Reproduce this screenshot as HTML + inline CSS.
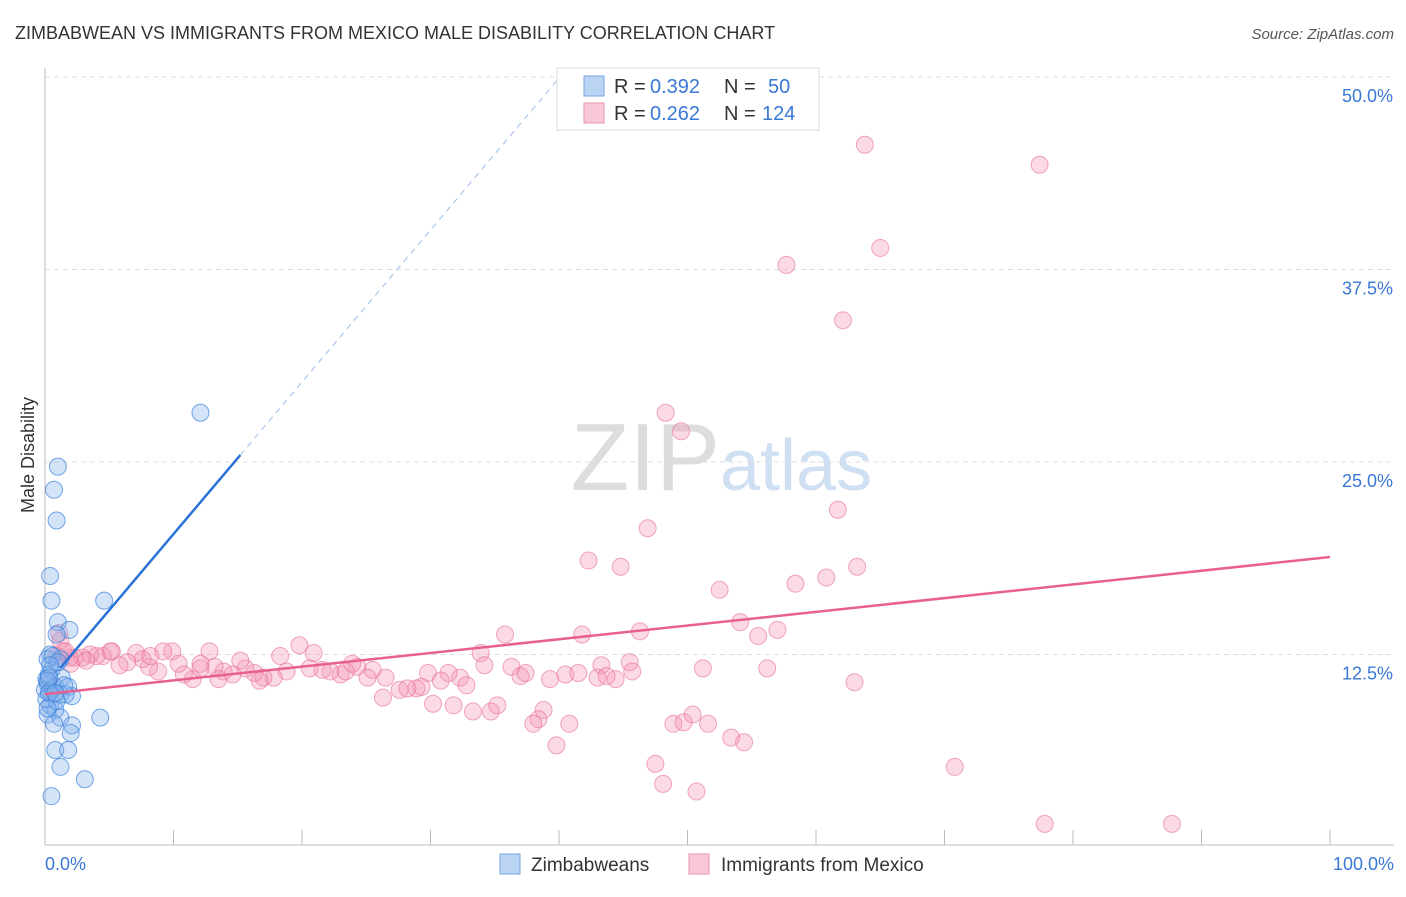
<!DOCTYPE html>
<html><head><meta charset="utf-8"><style>
body{margin:0;background:#fff;font-family:"Liberation Sans",sans-serif;}
svg text{font-family:"Liberation Sans",sans-serif;}
</style></head><body>
<svg id="c" width="1406" height="892">
<text x="15" y="39" font-size="18" fill="#333">ZIMBABWEAN VS IMMIGRANTS FROM MEXICO MALE DISABILITY CORRELATION CHART</text>
<text x="1394" y="39" font-size="15" fill="#555" font-style="italic" text-anchor="end">Source: ZipAtlas.com</text>
<text x="720" y="490" font-size="96" fill="#ddd" text-anchor="end" font-family="Liberation Serif">ZIP</text>
<text x="720" y="490" font-size="72" fill="#cfe0f3">atlas</text>
<text transform="translate(34,455) rotate(-90)" font-size="18" fill="#333" text-anchor="middle">Male Disability</text>
<g id="grid"></g><g id="marks"></g>
<g>
<rect x="557" y="68" width="262" height="62" fill="#fff" stroke="#ddd"/>
<rect x="584" y="76" width="20" height="20" fill="#bcd4f4" stroke="#7aa6e6"/>
<rect x="584" y="103" width="20" height="20" fill="#f9c8d6" stroke="#ec93ae"/>
<text x="614" y="93" font-size="20" fill="#333">R =</text>
<text x="650" y="93" font-size="20" fill="#3a78d6">0.392</text>
<text x="724" y="93" font-size="20" fill="#333">N =</text>
<text x="768" y="93" font-size="20" fill="#3a78d6">50</text>
<text x="614" y="120" font-size="20" fill="#333">R =</text>
<text x="650" y="120" font-size="20" fill="#3a78d6">0.262</text>
<text x="724" y="120" font-size="20" fill="#333">N =</text>
<text x="762" y="120" font-size="20" fill="#3a78d6">124</text>
</g>
<g>
<rect x="500" y="854" width="20" height="20" fill="#bcd4f4" stroke="#7aa6e6"/>
<text x="531" y="871" font-size="19" fill="#333">Zimbabweans</text>
<rect x="689" y="854" width="20" height="20" fill="#f9c8d6" stroke="#ec93ae"/>
<text x="721" y="871" font-size="19" fill="#333">Immigrants from Mexico</text>
</g>
<text x="45" y="870" font-size="18" fill="#3a78d6">0.0%</text>
<text x="1394" y="870" font-size="18" fill="#3a78d6" text-anchor="end">100.0%</text>
</svg>
<script>
const yTicks=[12.5,25,37.5,50];
const blueX=[12.1,1.0,0.7,0.9,0.4,0.5,4.6,1.0,1.9,0.9,0.4,1.2,0.5,1.3,0.2,0.8,1.8,0.0,0.4,1.2,2.1,1.6,0.4,0.8,0.2,1.2,4.3,2.1,2.0,0.8,1.8,1.2,3.1,0.5,0.1,0.1,0.2,0.6,0.3,0.9,1.5,0.3,0.6,0.2,0.7,1.0,0.4,0.2,0.8,0.3];
const blueY=[28.2,24.7,23.2,21.2,17.6,16.0,16.0,14.6,14.1,13.8,12.5,12.2,11.5,11.0,10.6,10.4,10.4,10.2,10.1,9.9,9.8,9.9,9.2,8.9,8.6,8.4,8.4,7.9,7.4,6.3,6.3,5.2,4.4,3.3,10.9,9.6,12.2,10.3,10.0,9.5,10.5,11.2,12.4,10.8,8.0,12.0,11.8,9.0,10.0,11.0];
const pinkX=[63.8,77.4,65.0,57.7,62.1,48.3,49.5,61.7,46.9,42.3,44.8,63.2,60.8,58.4,52.5,54.1,55.5,57.0,46.3,41.8,35.8,63.0,56.2,51.2,45.5,43.3,45.7,33.9,34.2,36.3,37.0,40.5,41.5,44.4,43.0,43.7,39.3,37.4,32.3,31.4,29.8,29.3,30.8,32.8,28.9,27.6,28.2,26.5,25.5,24.3,23.9,25.1,23.0,23.4,22.2,21.6,20.6,19.8,20.9,18.8,18.3,17.8,17.0,16.3,15.6,15.2,14.6,13.9,13.2,12.8,12.1,11.5,10.8,10.4,9.9,9.2,8.8,8.1,7.6,7.1,6.4,5.8,5.2,4.5,4.0,3.5,2.9,2.3,1.9,1.4,0.9,1.2,1.1,1.6,26.3,30.2,31.8,33.3,34.7,35.2,38.8,38.4,38.0,40.8,39.8,48.9,49.7,50.4,51.6,53.4,54.4,47.5,50.7,48.1,70.8,77.8,87.7,5.1,12.1,13.5,16.7,8.2,3.2,2.0];
const pinkY=[45.6,44.3,38.9,37.8,34.2,28.2,27.0,21.9,20.7,18.6,18.2,18.2,17.5,17.1,16.7,14.6,13.7,14.1,14.0,13.8,13.8,10.7,11.6,11.6,12.0,11.8,11.4,12.6,11.8,11.7,11.1,11.2,11.3,10.9,11.0,11.1,10.9,11.3,11.0,11.3,11.3,10.4,10.8,10.5,10.3,10.2,10.3,11.0,11.5,11.7,11.9,11.0,11.2,11.4,11.4,11.5,11.6,13.1,12.6,11.4,12.4,11.0,11.0,11.3,11.6,12.1,11.2,11.4,11.7,12.7,11.9,10.9,11.2,11.9,12.7,12.7,11.4,11.7,12.2,12.6,12.0,11.8,12.7,12.4,12.4,12.5,12.3,12.3,12.3,12.7,12.4,13.4,13.9,12.7,9.7,9.3,9.2,8.8,8.8,9.2,8.9,8.3,8.0,8.0,6.6,8.0,8.1,8.6,8.0,7.1,6.8,5.4,3.6,4.1,5.2,1.5,1.5,12.7,11.6,10.9,10.8,12.4,12.1,11.9];
const blueLine=[10.45,0.987];
const pinkLine=[9.93,18.83];
const NS="http://www.w3.org/2000/svg";
const X=v=>45+v*12.85, Y=v=>847-v*15.4;
const svg=document.getElementById('c'),grid=document.getElementById('grid'),marks=document.getElementById('marks');
function mk(p,t,a){const e=document.createElementNS(NS,t);for(const k in a)e.setAttribute(k,a[k]);p.appendChild(e);return e;}
const ax=mk(grid,'line',{x1:45,y1:68,x2:45,y2:845,stroke:'#bbb'});


const bx=mk(grid,'line',{x1:45,y1:845,x2:1394,y2:845,stroke:'#bbb'});


for(let i=0;i<=10;i++){const t=mk(grid,'line',{x1:X(i*10),y1:830,x2:X(i*10),y2:845,stroke:'#bbb'});

}
yTicks.forEach(v=>{const g=mk(grid,'line',{x1:45,y1:Y(v),x2:1394,y2:Y(v),stroke:'#ddd','stroke-dasharray':'5,4'});


const t=mk(grid,'text',{x:1393,y:Y(v)+25,'font-size':18,fill:'#3a78d6','text-anchor':'end'});t.textContent=v.toFixed(1)+'%';

});
pinkX.forEach((x,i)=>{const c=mk(marks,'circle',{cx:X(x),cy:Y(pinkY[i]),r:8.5,fill:'rgba(244,150,178,0.35)',stroke:'rgba(232,110,150,0.6)'});

});
blueX.forEach((x,i)=>{const c=mk(marks,'circle',{cx:X(x),cy:Y(blueY[i]),r:8.5,fill:'rgba(130,175,235,0.35)',stroke:'rgba(60,130,220,0.7)'});

});
const pl=mk(marks,'line',{x1:X(0),y1:Y(pinkLine[0]),x2:X(100),y2:Y(pinkLine[1]),stroke:'#e8608e','stroke-width':2.5});


const xe=(50.2-blueLine[0])/blueLine[1];
const bd=mk(marks,'line',{x1:X(15.2),y1:Y(blueLine[0]+blueLine[1]*15.2),x2:X(xe),y2:Y(50.2),stroke:'#9bbce8','stroke-width':1,'stroke-dasharray':'6,5'});


const bl=mk(marks,'line',{x1:X(1.2),y1:Y(blueLine[0]+blueLine[1]*1.2),x2:X(15.2),y2:Y(blueLine[0]+blueLine[1]*15.2),stroke:'#2a72d8','stroke-width':2.5});


</script>
</body></html>
